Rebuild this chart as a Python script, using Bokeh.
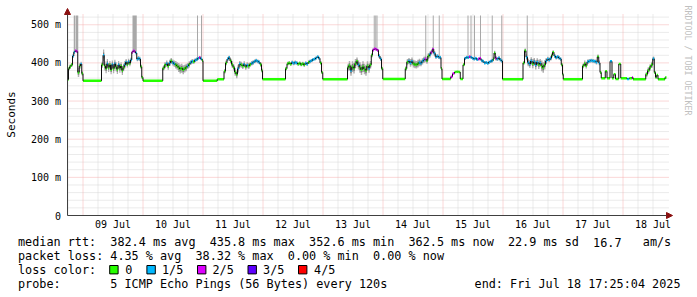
import numpy as np
from bokeh.plotting import figure
from bokeh.models import Range1d, Label, BoxAnnotation, Arrow, NormalHead
from bokeh.embed import file_html
from bokeh.resources import INLINE

# ---------------- data (hours since 08 Jul 00:00, values in ms) ----------------
START_H = 17.8
END_H = 257.42
day_labels = ["09 Jul", "10 Jul", "11 Jul", "12 Jul", "13 Jul",
              "14 Jul", "15 Jul", "16 Jul", "17 Jul", "18 Jul"]
y_ticks = [0, 100, 200, 300, 400, 500]
y_labels = ["0", "100 m", "200 m", "300 m", "400 m", "500 m"]

hours = [
    17.8, 18.2, 18.6, 19.2, 19.8, 20.3, 20.8, 21.3, 21.9, 22.5, 23.0, 23.5, 24.0,
    31.4, 32.0, 32.5, 33.0, 33.5, 34.0, 34.5, 35.0, 35.5, 36.0, 36.5, 37.0, 37.5, 38.0, 38.5, 39.0, 39.5,
    40.0, 40.5, 41.0, 41.5, 42.0, 42.5, 43.0, 43.5, 44.0, 44.5, 45.0, 45.5, 46.0, 46.5, 47.0, 47.5, 48.0,
    55.9, 56.5, 57.2, 57.8, 58.4, 59.0, 59.6, 60.2, 60.8, 61.4, 62.0, 62.6, 63.2, 63.8, 64.4,
    65.0, 65.6, 66.2, 66.8, 67.4, 68.0, 68.6, 69.2, 69.8, 70.4, 71.0, 71.6, 72.0, 77.7,
    80.4, 81.0, 81.6, 82.2, 82.8, 83.4, 84.0, 84.6, 85.2, 85.8, 86.4, 87.0, 87.6,
    88.2, 88.8, 89.4, 90.0, 90.6, 91.2, 91.8, 92.4, 93.0, 93.6, 94.2, 94.8, 95.4, 95.8,
    105.0, 105.6, 106.2, 106.8, 107.4, 108.0, 108.6, 109.2, 109.8, 110.4, 111.0, 111.6, 112.2,
    112.8, 113.4, 114.0, 114.6, 115.2, 115.8, 116.4, 117.0, 117.6, 118.2, 118.8, 119.4, 119.9,
    129.8, 130.3, 130.9, 131.5, 132.1, 132.7, 133.3, 133.9, 134.5, 135.1, 135.7, 136.3, 136.9,
    137.5, 138.1, 138.7, 139.3, 139.8, 140.4, 141.0, 141.6, 142.2, 142.8, 143.4, 143.9,
    152.9, 153.5, 154.1, 154.7, 155.3, 155.9, 156.5, 157.1, 157.7, 158.3, 158.9, 159.5, 160.1,
    160.7, 161.3, 161.9, 162.5, 163.1, 163.7, 164.3, 164.9, 165.5, 166.1, 166.7, 167.2, 167.6,
    171.1, 171.8, 172.6, 173.4, 174.2, 174.9,
    176.0, 176.6, 177.2, 177.8, 178.4, 179.0, 179.6, 180.2, 180.8, 181.4, 182.0, 182.6, 183.2, 183.8,
    184.4, 185.0, 185.6, 186.2, 186.8, 187.4, 188.0, 188.4, 188.9, 189.5, 190.1, 190.7, 191.3, 191.8,
    200.0, 200.6, 201.2, 201.8, 202.4, 203.0, 203.6, 204.2, 204.8, 205.4, 206.0, 206.6, 207.2, 207.8,
    208.4, 209.0, 209.6, 210.2, 210.8, 211.4, 211.8, 212.4, 213.0, 213.6, 214.2, 214.8, 215.3, 215.8, 216.1,
    223.8, 224.4, 225.0, 225.6, 226.3, 227.0, 227.7, 228.4, 229.1, 229.7, 230.3, 230.8, 231.3,
    232.9, 233.6, 234.8, 235.6, 236.3, 237.0, 238.3, 239.1, 241.6, 242.5, 243.6, 244.0,
    249.1, 249.8, 250.5, 251.2, 251.9, 252.5, 253.0, 253.5, 254.0, 256.8,
]
median_ms = [
    356, 385, 390, 395, 418, 428, 432, 430, 375, 392, 397, 372, 353,
    395, 420, 392, 385, 398, 388, 395, 382, 396, 385, 398, 390, 383, 395, 386, 392, 380,
    388, 395, 402, 396, 403, 399, 408, 428, 432, 430, 426, 410, 412, 410, 390, 362, 353,
    386, 394, 398, 392, 400, 405, 401, 398, 395, 392, 388, 384, 386, 382, 385,
    388, 392, 396, 401, 404, 403, 407, 409, 412, 414, 411, 406, 353, 357,
    378, 400, 410, 414, 405, 396, 388, 376, 370, 385, 397, 395, 392,
    396, 390, 394, 392, 396, 399, 401, 404, 406, 404, 402, 396, 380, 357,
    385, 398, 400, 397, 401, 399, 401, 400, 397, 399, 396, 398, 395,
    399, 397, 402, 404, 406, 409, 410, 413, 416, 412, 400, 375, 357,
    388, 393, 380, 390, 386, 398, 404, 395, 388, 382, 390, 384, 380,
    392, 386, 395, 420, 434, 437, 436, 433, 418, 410, 385, 358,
    385, 402, 405, 400, 404, 398, 396, 395, 398, 401, 399, 404, 408,
    410, 406, 418, 422, 428, 436, 425, 416, 418, 415, 414, 385, 358,
    364, 372, 376, 377, 376, 358,
    395, 412, 415, 414, 416, 415, 412, 410, 412, 409, 410, 412, 406, 404,
    400, 401, 399, 402, 404, 406, 410, 426, 412, 410, 413, 408, 405, 357,
    400, 432, 415, 401, 397, 405, 398, 403, 395, 402, 396, 400, 392, 388,
    395, 405, 410, 408, 412, 420, 428, 418, 414, 416, 413, 410, 395, 370, 357,
    392, 398, 393, 403, 405, 406, 405, 404, 402, 416, 400, 375, 360,
    378, 360, 404, 360, 370, 358, 397, 360, 358, 360, 362, 357,
    370, 380, 388, 395, 411, 375, 362, 368, 357, 362,
]
# number of lost pings out of 5 for each sample
loss_of_5 = [
    0, 0, 0, 0, 1, 1, 2, 2, 0, 0, 1, 0, 0,
    0, 1, 0, 0, 1, 0, 0, 0, 1, 0, 1, 0, 0, 1, 0, 0, 0,
    0, 1, 1, 0, 1, 0, 1, 2, 2, 2, 1, 1, 1, 1, 0, 0, 0,
    0, 0, 1, 0, 1, 0, 1, 1, 0, 0, 0, 0, 0, 0, 0,
    0, 1, 0, 1, 1, 0, 1, 1, 1, 2, 1, 0, 0, 0,
    0, 0, 1, 1, 0, 0, 0, 0, 0, 1, 1, 0, 0,
    1, 0, 1, 0, 0, 1, 1, 1, 1, 1, 1, 0, 0, 0,
    0, 0, 0, 0, 1, 1, 1, 1, 0, 0, 0, 0, 0,
    1, 1, 0, 1, 1, 1, 1, 1, 1, 1, 0, 0, 0,
    0, 0, 1, 0, 0, 0, 0, 1, 0, 0, 0, 0, 0,
    0, 1, 0, 0, 2, 2, 2, 2, 1, 1, 0, 0,
    0, 0, 1, 1, 1, 0, 0, 0, 0, 1, 1, 1, 1,
    2, 0, 0, 1, 2, 2, 1, 1, 1, 1, 1, 0, 0,
    2, 2, 0, 0, 0, 0,
    0, 1, 1, 1, 2, 1, 1, 1, 1, 1, 2, 2, 1, 1,
    1, 1, 1, 1, 1, 1, 0, 0, 2, 1, 1, 1, 1, 0,
    0, 0, 1, 1, 1, 1, 0, 1, 1, 1, 0, 1, 0, 0,
    0, 1, 1, 1, 1, 0, 0, 1, 1, 1, 1, 1, 0, 0, 0,
    0, 0, 0, 1, 1, 1, 1, 1, 1, 0, 1, 0, 0,
    0, 0, 1, 0, 0, 0, 0, 0, 1, 0, 2, 0,
    0, 0, 0, 0, 1, 0, 0, 0, 0, 0,
]
# half-width of the smoke (spread of the 5 pings) for each sample, ms
smoke_ms = [
    0, 4, 6, 5, 5, 4, 3, 3, 12, 8, 6, 6, 0,
    8, 15, 12, 12, 12, 12, 10, 12, 10, 12, 10, 12, 12, 10, 12, 10, 12,
    10, 10, 8, 8, 8, 8, 6, 4, 4, 4, 4, 6, 6, 6, 6, 4, 0,
    6, 8, 8, 10, 8, 8, 8, 8, 10, 10, 12, 12, 12, 12, 10,
    10, 8, 8, 6, 6, 6, 5, 5, 4, 4, 4, 4, 0, 0,
    6, 6, 5, 5, 6, 8, 8, 10, 10, 10, 8, 8, 8,
    8, 8, 8, 8, 6, 6, 6, 5, 5, 5, 5, 6, 6, 0,
    5, 5, 5, 5, 5, 5, 5, 5, 5, 5, 5, 5, 6,
    5, 5, 5, 5, 4, 4, 4, 4, 4, 4, 4, 4, 0,
    10, 12, 14, 14, 14, 12, 10, 12, 14, 14, 14, 14, 14,
    12, 12, 10, 6, 4, 4, 4, 4, 5, 5, 5, 0,
    6, 8, 8, 10, 10, 10, 10, 10, 10, 10, 8, 8, 8,
    8, 8, 8, 8, 6, 6, 6, 6, 5, 5, 5, 4, 0,
    0, 0, 0, 0, 0, 0,
    4, 4, 4, 4, 4, 4, 4, 4, 4, 4, 4, 4, 4, 4,
    4, 4, 4, 4, 4, 5, 6, 6, 6, 5, 5, 5, 5, 0,
    4, 6, 8, 10, 10, 10, 12, 10, 12, 10, 12, 10, 14, 14,
    12, 8, 6, 6, 6, 6, 5, 5, 5, 5, 5, 5, 5, 4, 0,
    6, 8, 8, 6, 5, 5, 5, 5, 6, 6, 6, 4, 0,
    2, 0, 2, 0, 2, 0, 2, 0, 0, 0, 0, 0,
    6, 8, 8, 8, 6, 4, 2, 2, 0, 0,
]
# gray spikes (very late / timed-out pings) reaching the top of the graph
spike_start_h = [20.3, 21.0, 43.8, 69.6, 71.2, 140.3, 140.9, 141.4, 160.9, 163.9, 166.3,
                 177.8, 179.0, 180.4, 182.8, 187.5, 191.3, 201.5]
spike_end_h = [20.8, 22.1, 45.5, 70.0, 71.6, 140.7, 141.3, 141.8, 161.3, 164.3, 166.7,
               178.2, 179.4, 180.8, 183.2, 187.9, 191.7, 201.9]
spike_base_ms = [430, 430, 430, 412, 410, 436, 436, 433, 406, 430, 415,
                 415, 415, 412, 410, 406, 405, 415]
SPIKE_TOP = 524

loss_colors = ["#26ff00", "#00b8ff", "#dd00ff", "#5e00ff", "#ff0000"]
loss_names = ["0", "1/5", "2/5", "3/5", "4/5"]

assert len(hours) == len(median_ms) == len(loss_of_5) == len(smoke_ms), (
    len(hours), len(median_ms), len(loss_of_5), len(smoke_ms))

# ---------------- layout: the frame covers the whole canvas ----------------
W, H = 697, 297
PX_PER_H = 2.5            # 60 px per day
PX_PER_MS = 0.3815        # 38.15 px per 100 ms
X0_PX, Y0_PX = 67, 215    # canvas pixel of (START_H, 0 ms)
MONO = "DejaVu Sans Mono"
LEG_SIZE = "11.8px"
CH = 7.1                  # monospace advance of the legend font
COL0 = 17.5               # legend left edge


def hx(cx):               # canvas x pixel -> hours
    return START_H + (cx - X0_PX) / PX_PER_H


def my(cy):               # canvas y pixel (from top) -> ms
    return (Y0_PX - cy) / PX_PER_MS


def col(c):               # legend text column -> canvas x pixel
    return COL0 + c * CH


p = figure(width=W, height=H, output_backend="svg", toolbar_location=None,
           x_range=Range1d(hx(0), hx(W)), y_range=Range1d(my(H), my(0)),
           min_border=0, min_border_left=0, min_border_right=0,
           min_border_top=0, min_border_bottom=0,
           background_fill_color="white", border_fill_color="white", outline_line_color=None)
p.axis.visible = False
p.grid.visible = False

# ---------------- grid ----------------
GRID_RIGHT = hx(668)
GRID_TOP = my(13)
minor_h = [h for h in range(18, 258, 6) if h % 24 != 0]
major_h = [24 * d for d in range(1, 11)]
minor_v = [v for v in range(20, 540, 20) if v % 100 != 0]
major_v = [100, 200, 300, 400, 500]
MINOR_COL, MAJOR_COL = "#d6d6d6", "#f5b0b0"
p.segment(x0=minor_h, y0=[0] * len(minor_h), x1=minor_h, y1=[GRID_TOP] * len(minor_h),
          line_color=MINOR_COL, line_dash="1 1", line_width=1)
p.segment(x0=[START_H] * len(minor_v), y0=minor_v, x1=[GRID_RIGHT] * len(minor_v), y1=minor_v,
          line_color=MINOR_COL, line_dash="1 1", line_width=1)
p.segment(x0=major_h, y0=[0] * len(major_h), x1=major_h, y1=[GRID_TOP] * len(major_h),
          line_color=MAJOR_COL, line_dash="1 1", line_width=1)
p.segment(x0=[START_H] * len(major_v), y0=major_v, x1=[GRID_RIGHT] * len(major_v), y1=major_v,
          line_color=MAJOR_COL, line_dash="1 1", line_width=1)

# ---------------- spikes ----------------
p.quad(left=spike_start_h, right=spike_end_h, bottom=spike_base_ms,
       top=[SPIKE_TOP] * len(spike_base_ms), color="#a8a8a8", line_width=0)

# ---------------- smoke (step shaped) ----------------
t = np.array(hours, dtype=float)
m = np.array(median_ms, dtype=float)
s = np.array(smoke_ms, dtype=float)
t_next = np.append(t[1:], END_H)
xs = np.column_stack([t, t_next]).ravel()
p.varea(x=xs, y1=np.repeat(m - s, 2), y2=np.repeat(m + s, 2), color="#b0b0b0")
p.varea(x=xs, y1=np.repeat(m - s * 0.5, 2), y2=np.repeat(m + s * 0.5, 2), color="#7a7a7a")

# ---------------- median coloured by loss, dark vertical steps ----------------
cols = [loss_colors[k] for k in loss_of_5]
p.segment(x0=t, y0=m, x1=t_next, y1=m, color=cols, line_width=2.5)
p.segment(x0=t_next[:-1], y0=m[:-1], x1=t_next[:-1], y1=m[1:], color="#101010", line_width=1)

# ---------------- axis lines with arrow heads ----------------
AX_RIGHT = hx(672)
AX_TOP = my(8)
head = dict(size=6, fill_color="#8b1010", line_color="#8b1010")
p.add_layout(Arrow(end=NormalHead(**head), x_start=START_H, y_start=0, x_end=AX_RIGHT, y_end=0,
                   line_color="#404040", line_width=1))
p.add_layout(Arrow(end=NormalHead(**head), x_start=START_H, y_start=0, x_end=START_H, y_end=AX_TOP,
                   line_color="#404040", line_width=1))


def text_at(text, cx, cy, size=LEG_SIZE, align="left", angle=0.0, color="#000000"):
    p.add_layout(Label(x=hx(cx), y=my(cy), text=text, text_font=MONO, text_font_size=size,
                       text_color=color, text_align=align, text_baseline="middle", angle=angle))


# tick labels
for d, lab in enumerate(day_labels):
    p.add_layout(Label(x=36 + 24 * d, y=my(224), text=lab, text_font=MONO, text_font_size="10px",
                       text_color="#000000", text_align="center", text_baseline="middle"))
for v, lab in zip(y_ticks, y_labels):
    p.add_layout(Label(x=hx(60.5), y=v, text=lab, text_font=MONO, text_font_size="10px",
                       text_color="#000000", text_align="right", text_baseline="middle"))

text_at("Seconds", 11, 114, size="11px", align="center", angle=np.pi / 2)
text_at("RRDTOOL / TOBI OETIKER", 687.5, 60, size="8.3px", align="center",
        angle=-np.pi / 2, color="#c0c0c0")

# ---------------- legend ----------------
row1 = [("median rtt:", 0), ("382.4 ms avg", 13), ("435.8 ms max", 27),
        ("352.6 ms min", 41), ("362.5 ms now", 55), ("22.9 ms sd", 69),
        ("16.7", 81), ("am/s", 88)]
row2 = [("packet loss:", 0), ("4.35 % avg", 13), ("38.32 % max", 25),
        ("0.00 % min", 38), ("0.00 % now", 50)]
for txt, c in row1:
    text_at(txt, col(c), 241.5)
for txt, c in row2:
    text_at(txt, col(c), 255.2)
text_at("loss color:", col(0), 269.2)
box_x = [109.2, 146.4, 197.0, 247.5, 298.0]
lab_x = [124.7, 161.5, 212.0, 262.6, 313.6]
for colr, name, bx, lx in zip(loss_colors, loss_names, box_x, lab_x):
    p.add_layout(BoxAnnotation(left=hx(bx), right=hx(bx + 8.4), top=my(265.0), bottom=my(273.4),
                               fill_color=colr, fill_alpha=1.0, line_color="#000000",
                               line_width=1, line_alpha=1.0))
    text_at(name, lx, 269.2)
text_at("probe:", col(0), 283.3)
text_at("5 ICMP Echo Pings (56 Bytes) every 120s", col(13), 283.3)
text_at("end: Fri Jul 18 17:25:04 2025", 680.0, 283.3, align="right")

open("out.html", "w").write(file_html(p, INLINE))
